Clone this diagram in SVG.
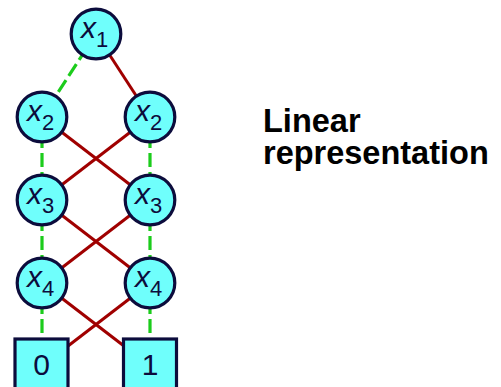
<svg xmlns="http://www.w3.org/2000/svg" width="501" height="387" viewBox="0 0 501 387">
<style>
.n{fill:#6ffffc;stroke:#0c0c3c;stroke-width:3.2}
.lo{stroke:#1ccc1c;stroke-width:3.2;stroke-dasharray:14 5;stroke-dashoffset:2;fill:none}
.hi{stroke:#a00000;stroke-width:3;fill:none}
.v{font-family:"Liberation Sans",Arial,sans-serif;font-size:30px;font-style:italic;fill:#0c0c3c}
.s{font-style:normal;font-size:22px}
.t{font-family:"Liberation Sans",Arial,sans-serif;font-size:30px;fill:#0c0c3c;text-anchor:middle}
.lab{font-family:"Liberation Sans",Arial,sans-serif;font-size:32.5px;font-weight:bold;fill:#000}
</style>
<rect width="501" height="387" fill="#fff"/>
<g id="edges">
<line class="lo" x1="96" y1="34" x2="42" y2="117"/>
<line class="hi" x1="96" y1="34" x2="150" y2="117"/>
<line class="lo" x1="42" y1="117" x2="42" y2="200"/>
<line class="lo" x1="150" y1="117" x2="150" y2="200"/>
<line class="hi" x1="42" y1="117" x2="150" y2="200"/>
<line class="hi" x1="150" y1="117" x2="42" y2="200"/>
<line class="lo" x1="42" y1="200" x2="42" y2="283"/>
<line class="lo" x1="150" y1="200" x2="150" y2="283"/>
<line class="hi" x1="42" y1="200" x2="150" y2="283"/>
<line class="hi" x1="150" y1="200" x2="42" y2="283"/>
<line class="lo" x1="42" y1="283" x2="42" y2="366"/>
<line class="lo" x1="150" y1="283" x2="150" y2="366"/>
<line class="hi" x1="42" y1="283" x2="150" y2="366"/>
<line class="hi" x1="150" y1="283" x2="42" y2="366"/>
</g>
<g id="x1"><circle class="n" cx="96" cy="34" r="24.8"/><text class="v" x="81" y="38">x<tspan class="s" dy="9">1</tspan></text></g>
<g id="x2a"><circle class="n" cx="42" cy="117" r="24.8"/><text class="v" x="27" y="121">x<tspan class="s" dy="9">2</tspan></text></g>
<g id="x2b"><circle class="n" cx="150" cy="117" r="24.8"/><text class="v" x="135" y="121">x<tspan class="s" dy="9">2</tspan></text></g>
<g id="x3a"><circle class="n" cx="42" cy="200" r="24.8"/><text class="v" x="27" y="204">x<tspan class="s" dy="9">3</tspan></text></g>
<g id="x3b"><circle class="n" cx="150" cy="200" r="24.8"/><text class="v" x="135" y="204">x<tspan class="s" dy="9">3</tspan></text></g>
<g id="x4a"><circle class="n" cx="42" cy="283" r="24.8"/><text class="v" x="27" y="287">x<tspan class="s" dy="9">4</tspan></text></g>
<g id="x4b"><circle class="n" cx="150" cy="283" r="24.8"/><text class="v" x="135" y="287">x<tspan class="s" dy="9">4</tspan></text></g>
<g id="t0"><rect class="n" x="15" y="339" width="53" height="54"/><text class="t" x="41.5" y="375">0</text></g>
<g id="t1"><rect class="n" x="123.5" y="339" width="53" height="54"/><text class="t" x="150" y="375">1</text></g>
<g id="label"><text class="lab" x="263" y="132">Linear</text><text class="lab" x="263" y="164">representation</text></g>
</svg>
